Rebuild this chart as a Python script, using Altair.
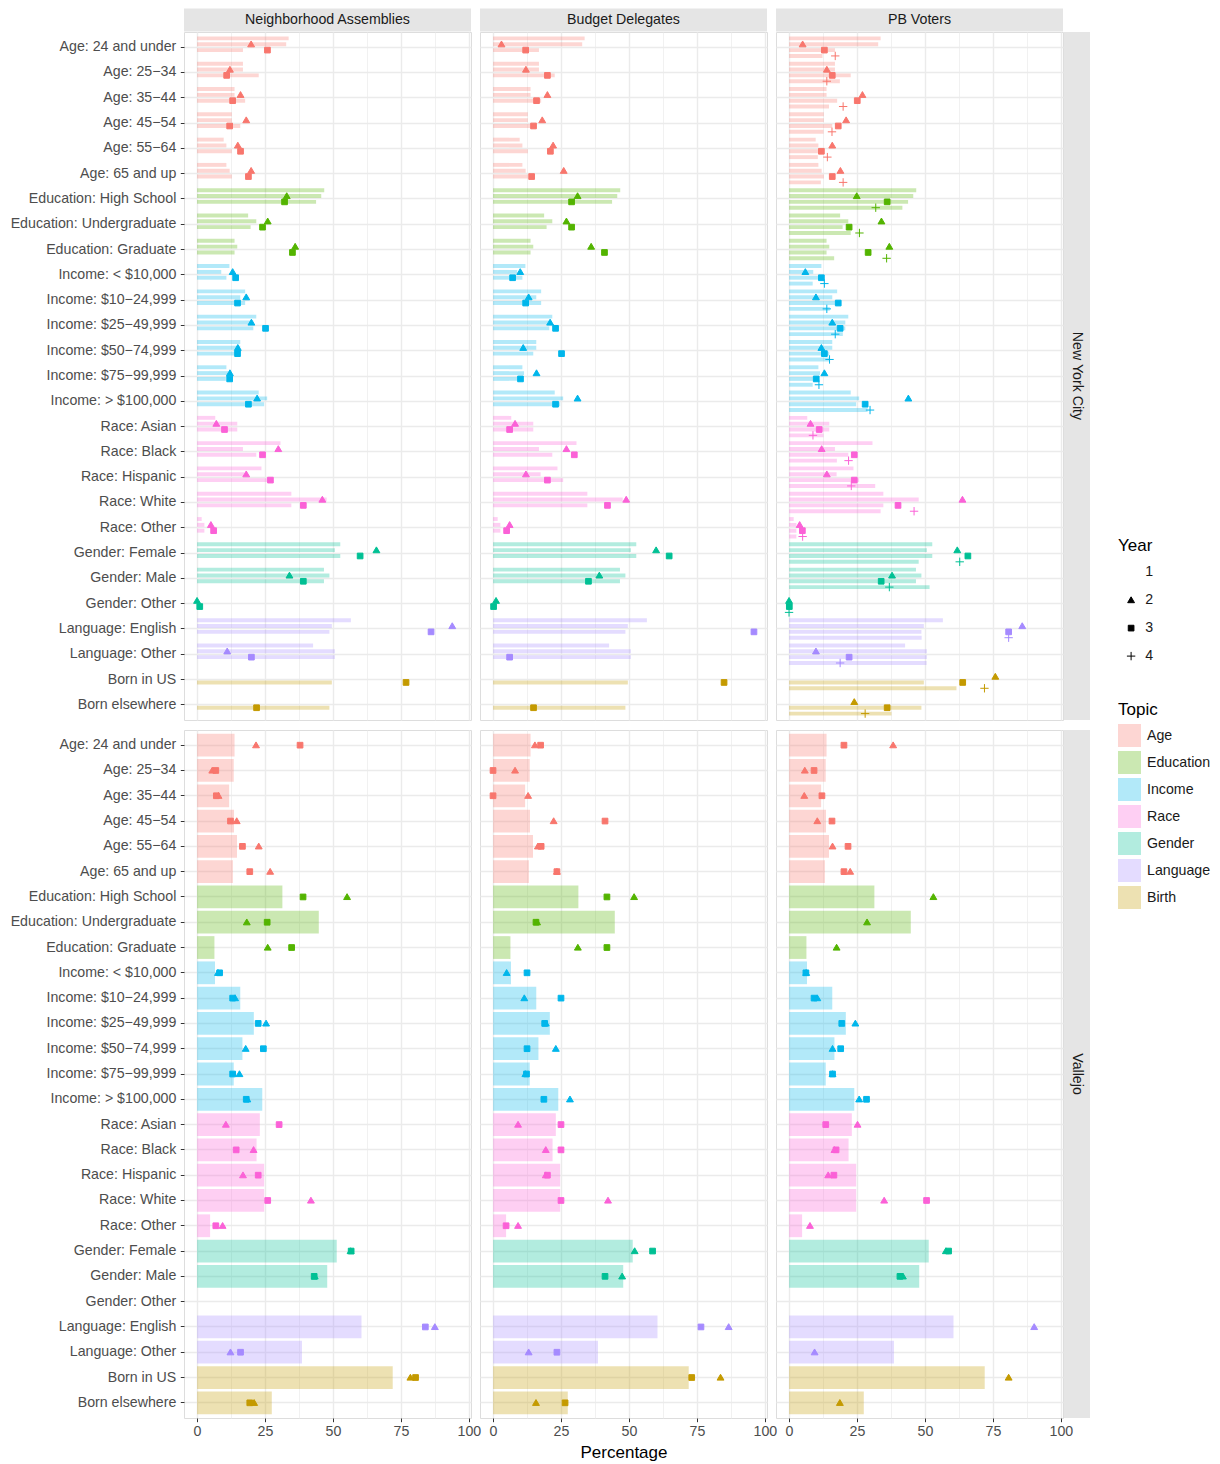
import altair as alt
import pandas as pd

FONT = "Liberation Sans"
FS = 14.2
W, H = 287, 688
XDOM = [-4.8, 100.8]

cats = ["Age: 24 and under", "Age: 25\u221234", "Age: 35\u221244", "Age: 45\u221254",
        "Age: 55\u221264", "Age: 65 and up",
        "Education: High School", "Education: Undergraduate", "Education: Graduate",
        "Income: < $10,000", "Income: $10\u221224,999", "Income: $25\u221249,999",
        "Income: $50\u221274,999", "Income: $75\u221299,999", "Income: > $100,000",
        "Race: Asian", "Race: Black", "Race: Hispanic", "Race: White", "Race: Other",
        "Gender: Female", "Gender: Male", "Gender: Other",
        "Language: English", "Language: Other",
        "Born in US", "Born elsewhere"]
topics = ["Age"] * 6 + ["Education"] * 3 + ["Income"] * 6 + ["Race"] * 5 + \
         ["Gender"] * 3 + ["Language"] * 2 + ["Birth"] * 2

topic_order = ["Age", "Education", "Income", "Race", "Gender", "Language", "Birth"]
topic_colors = ["#F8766D", "#53B400", "#00B6EB", "#FB61D7", "#00C094", "#A58AFF", "#C49A00"]
years = ["1", "2", "3", "4"]
shape_paths = ["M0,0", "M0,-0.78L0.82,0.62L-0.82,0.62Z",
               "M-0.68,-0.68H0.68V0.68H-0.68Z", "M-1,0H1M0,-1V1"]

panels = ["Neighborhood Assemblies", "Budget Delegates", "PB Voters"]
cities = ["New York City", "Vallejo"]

# New York City benchmark bars by year
nyc_bar_y1 = [33.7, 16.9, 13.8, 12.8, 9.8, 10.8, 46.8, 18.8, 13.8, 11.9, 17.7, 21.8, 15.9, 10.8, 22.7,
              6.7, 30.7, 23.7, 34.7, 1.7, 52.7, 46.7, 0, 56.6, 42.7, None, None]
nyc_bar_y2 = [32.8, 16.9, 13.8, 12.8, 10.8, 12.0, 45.7, 21.8, 14.8, 8.9, 15.9, 20.7, 15.9, 11.4, 25.8,
              14.8, 16.9, 17.5, 47.7, 2.7, 50.7, 48.7, 0, 49.6, 50.7, None, None]
nyc_bar_y3 = [16.9, 22.7, 17.7, 15.9, 12.8, 12.8, 43.8, 19.7, 13.8, 10.8, 17.7, 20.7, 14.8, 10.6, 24.7,
              14.8, 21.8, 25.8, 34.7, 2.7, 52.7, 46.7, 0, 48.7, 50.7, 49.6, 48.7]
nyc_bar_y4 = [12.3, 18.7, 14.7, 12.7, 10.6, 11.7, 41.7, 22.7, 16.6, 8.7, 15.0, 19.8, 14.8, 8.7, 28.9,
              12.7, 17.6, 31.7, 33.7, 2.7, 47.7, 51.7, 0, 48.8, 50.6, 61.6, 37.7]

# New York City participants
nyc_na_y2 = [19.9, 12.1, 16.0, 18.1, 15.0, 19.9, 33.0, 26.0, 36.1, 13.1, 18.1, 20.0, 15.0, 12.1, 22.1,
             7.1, 29.9, 18.1, 46.1, 5.1, 66.0, 34.0, 0.0, 93.9, 11.1, None, None]
nyc_na_y3 = [25.9, 10.9, 13.1, 12.0, 16.0, 18.9, 32.2, 24.1, 35.1, 14.2, 14.9, 25.2, 14.9, 12.0, 18.9,
             10.1, 24.1, 27.0, 39.1, 6.1, 60.0, 39.1, 1.0, 86.1, 20.0, 76.9, 21.9]
nyc_bd_y2 = [3.1, 12.1, 20.0, 18.1, 22.1, 26.0, 31.1, 27.0, 36.1, 10.0, 13.1, 21.0, 11.1, 16.0, 31.1,
             8.1, 27.0, 12.1, 49.0, 6.1, 60.0, 39.1, 1.1, None, None, None, None]
nyc_bd_y3 = [12.0, 20.0, 16.0, 14.9, 21.1, 14.2, 28.9, 28.9, 41.0, 7.2, 12.0, 23.0, 25.2, 10.1, 23.0,
             6.1, 29.9, 20.0, 42.1, 5.0, 64.8, 35.1, 0.2, 96.0, 6.1, 85.0, 14.9]
nyc_pb_y2 = [5.0, 13.9, 27.0, 21.0, 15.9, 18.9, 24.9, 34.0, 36.9, 6.0, 9.9, 15.9, 11.9, 13.0, 43.9,
             7.9, 12.0, 13.9, 63.8, 3.9, 61.9, 37.9, 0.0, 85.8, 9.9, 75.9, 24.0]
nyc_pb_y3 = [13.0, 15.9, 25.1, 18.1, 11.9, 15.9, 36.1, 22.1, 29.1, 11.9, 18.1, 18.8, 13.0, 10.0, 28.0,
             11.1, 24.0, 24.0, 40.1, 4.9, 65.8, 33.9, 0.1, 80.8, 22.1, 63.9, 36.1]
nyc_pb_y4 = [17.0, 13.9, 19.9, 15.8, 14.1, 19.9, 31.9, 25.9, 35.9, 13.0, 13.9, 17.0, 14.9, 11.0, 29.8,
             8.8, 21.9, 22.9, 46.0, 5.0, 62.8, 36.9, 0.0, 80.8, 18.8, 71.9, 28.0]

# Vallejo benchmark bars
val_bar = [13.8, 13.5, 11.8, 13.6, 14.7, 13.2, 31.4, 44.8, 6.4, 6.6, 15.9, 20.9, 16.7, 13.5, 24.0,
           23.1, 21.9, 24.7, 24.7, 4.8, 51.4, 47.9, None, 60.5, 38.6, 72.0, 27.5]

# Vallejo participants
val_na_y2 = [21.7, 5.6, 7.9, 14.6, 22.7, 26.9, 55.2, 18.3, 26.0, 7.7, 14.0, 25.4, 17.9, 15.6, 18.5,
             10.6, 20.8, 16.9, 41.9, 9.4, 56.5, 43.3, None, 87.5, 12.3, 78.5, 21.0]
val_na_y3 = [37.9, 6.9, 7.1, 12.3, 16.7, 19.4, 39.0, 25.8, 34.8, 8.3, 13.1, 22.5, 24.4, 13.1, 18.1,
             30.2, 14.4, 22.5, 26.0, 6.9, 56.7, 43.1, None, 84.0, 16.0, 80.4, 19.4]
val_bd_y2 = [15.4, 8.1, 12.9, 22.3, 16.5, 23.5, 51.9, 16.2, 31.2, 5.0, 11.5, 19.4, 23.1, 11.9, 28.3,
             9.2, 19.4, 19.4, 42.3, 9.2, 52.1, 47.5, None, 86.7, 13.1, 83.7, 15.8]
val_bd_y3 = [17.5, 0.0, 0.0, 41.2, 17.7, 23.5, 41.9, 15.8, 41.9, 12.5, 25.0, 19.0, 12.5, 12.3, 18.7,
             25.0, 25.0, 20.0, 25.0, 4.8, 58.7, 41.2, None, 76.5, 23.5, 73.1, 26.5]
val_pb_y2 = [38.3, 5.8, 5.6, 10.4, 16.0, 22.5, 53.1, 28.7, 17.5, 6.3, 10.4, 24.4, 16.0, 16.0, 25.8,
             25.2, 16.7, 14.4, 35.0, 7.7, 57.7, 41.9, None, 90.2, 9.4, 80.8, 18.7]
val_pb_y3 = [20.2, 9.2, 12.1, 15.8, 21.7, 20.2, None, None, None, 6.2, 9.2, 19.4, 19.0, 16.0, 28.5,
             13.5, 17.3, 16.5, 50.6, None, 58.7, 40.8, None, None, None, None, None]


def long_df(series):
    rows = []
    for yr, vals in series.items():
        for c, t, v in zip(cats, topics, vals):
            if v is not None:
                rows.append({"cat": c, "topic": t, "year": yr, "value": v})
    return pd.DataFrame(rows, columns=["cat", "topic", "year", "value"])


nyc_bars_3 = {"1": nyc_bar_y1, "2": nyc_bar_y2, "3": nyc_bar_y3}
nyc_bars_4 = {"1": nyc_bar_y1, "2": nyc_bar_y2, "3": nyc_bar_y3, "4": nyc_bar_y4}
data = {
    ("New York City", 0): (long_df(nyc_bars_3), long_df({"2": nyc_na_y2, "3": nyc_na_y3}), ["1", "2", "3"]),
    ("New York City", 1): (long_df(nyc_bars_3), long_df({"2": nyc_bd_y2, "3": nyc_bd_y3}), ["1", "2", "3"]),
    ("New York City", 2): (long_df(nyc_bars_4),
                           long_df({"2": nyc_pb_y2, "3": nyc_pb_y3, "4": nyc_pb_y4}), ["1", "2", "3", "4"]),
    ("Vallejo", 0): (long_df({"1": val_bar}), long_df({"2": val_na_y2, "3": val_na_y3}), None),
    ("Vallejo", 1): (long_df({"1": val_bar}), long_df({"2": val_bd_y2, "3": val_bd_y3}), None),
    ("Vallejo", 2): (long_df({"1": val_bar}), long_df({"2": val_pb_y2, "3": val_pb_y3}), None),
}

fill_scale = alt.Scale(domain=topic_order, range=topic_colors)
topic_legend = alt.Legend(title="Topic", orient="none", legendX=934, legendY=670,
                          symbolType="square", symbolSize=529, symbolOpacity=0.3,
                          symbolStrokeWidth=0, rowPadding=4, labelOffset=6,
                          labelFontSize=FS, titleFontSize=17, titleFontWeight="normal",
                          titlePadding=5, labelColor="#1A1A1A", titleColor="black")
year_legend = alt.Legend(title="Year", orient="none", legendX=934, legendY=506,
                         symbolSize=70, symbolFillColor="black", symbolStrokeColor="black",
                         symbolStrokeWidth=1, symbolOffset=6, rowPadding=13, labelOffset=7,
                         labelFontSize=FS, titleFontSize=17, titleFontWeight="normal",
                         titlePadding=10, labelColor="#1A1A1A", titleColor="black")

xvals = [0, 12.5, 25, 37.5, 50, 62.5, 75, 87.5, 100]
grid_w = {"condition": {"test": "datum.value % 25 !== 0", "value": 0.7}, "value": 1.4}


def x_axis(bottom):
    if bottom:
        return alt.Axis(values=xvals, grid=True, gridColor="#EBEBEB", gridWidth=grid_w,
                        domain=False, ticks=True, tickSize=3.7, tickColor="#333333", tickWidth=1,
                        tickOpacity={"condition": {"test": "datum.value % 25 !== 0", "value": 0},
                                     "value": 1},
                        labelExpr="datum.value % 25 === 0 ? datum.label : ''",
                        labelFontSize=FS, labelColor="#4D4D4D", labelPadding=3,
                        labelFlush=False, labelOverlap=False,
                        titleFontSize=17, titleColor="black", titleFontWeight="normal",
                        titlePadding=6)
    return alt.Axis(values=xvals, grid=True, gridColor="#EBEBEB", gridWidth=grid_w,
                    domain=False, ticks=False, labels=False, minExtent=0, maxExtent=0)


def y_axis(first):
    if first:
        return alt.Axis(grid=True, gridColor="#EBEBEB", gridWidth=1.4, bandPosition=0.5,
                        domain=False, ticks=True, tickSize=3.7, tickColor="#333333", tickWidth=1,
                        labelFontSize=FS, labelColor="#4D4D4D", labelPadding=4.5,
                        minExtent=175, maxExtent=175, labelLimit=200)
    return alt.Axis(grid=True, gridColor="#EBEBEB", gridWidth=1.4, bandPosition=0.5,
                    domain=False, ticks=False, labels=False, minExtent=0, maxExtent=0)


def panel(city, col):
    bars_df, pts_df, ydom = data[(city, col)]
    bottom = city == "Vallejo"
    xtitle = "Percentage" if (bottom and col == 1) else None
    if ydom is not None:
        yscale = alt.Scale(domain=cats, paddingInner=0, paddingOuter=0.1)
        n = len(ydom)
        po = (1.0 / 0.9 * n - n + 1.0 / 3) / 2
        offscale = alt.Scale(domain=ydom, paddingInner=1.0 / 3, paddingOuter=po)
    else:
        yscale = alt.Scale(domain=cats, paddingInner=0.1, paddingOuter=0.15)
        offscale = None

    x = alt.X("value:Q", scale=alt.Scale(domain=XDOM, nice=False, zero=False),
              axis=x_axis(bottom), title=xtitle)
    y = alt.Y("cat:N", sort=cats, scale=yscale, axis=y_axis(col == 0), title=None)

    benc = dict(x=x, x2=alt.datum(0), y=y,
                fill=alt.Fill("topic:N", scale=fill_scale, legend=topic_legend))
    penc = dict(x=x, y=y,
                fill=alt.Fill("topic:N", scale=fill_scale, legend=topic_legend),
                stroke=alt.Stroke("topic:N", scale=fill_scale, legend=None),
                shape=alt.Shape("year:N", scale=alt.Scale(domain=years, range=shape_paths),
                                legend=year_legend))
    if offscale is not None:
        benc["yOffset"] = alt.YOffset("year:N", scale=offscale)
        penc["yOffset"] = alt.YOffset("year:N", scale=offscale)

    bars = alt.Chart(bars_df).mark_bar(opacity=0.3).encode(**benc)
    pts = alt.Chart(pts_df).mark_point(filled=True, opacity=1, size=70,
                                       strokeWidth=1).encode(**penc)
    layers = [bars, pts]
    if not bottom:
        lab = pd.DataFrame({"t": [panels[col]]})
        layers.append(alt.Chart(lab).mark_rect(color="#E5E5E5").encode(
            x=alt.value(0), x2=alt.value(W), y=alt.value(-23.5), y2=alt.value(-0.5)))
        layers.append(alt.Chart(lab).mark_text(fontSize=FS, font=FONT, color="#1A1A1A",
                                               baseline="middle", align="center").encode(
            text="t:N", x=alt.value(W / 2), y=alt.value(-12)))
    if col == 2:
        lab = pd.DataFrame({"t": [city]})
        layers.append(alt.Chart(lab).mark_rect(color="#E5E5E5").encode(
            x=alt.value(W + 1), x2=alt.value(W + 27), y=alt.value(0), y2=alt.value(H)))
        layers.append(alt.Chart(lab).mark_text(fontSize=FS, font=FONT, color="#1A1A1A",
                                               baseline="middle", align="center",
                                               angle=90).encode(
            text="t:N", x=alt.value(W + 14), y=alt.value(H / 2)))
    return alt.layer(*layers).properties(width=W, height=H)


cells = [panel(c, i) for c in cities for i in range(3)]
chart = alt.concat(*cells, columns=3, spacing={"row": 10, "column": 9},
                   bounds="flush").properties(
    padding={"left": 0, "top": 0, "right": 0, "bottom": 0}
).configure_view(stroke=None).configure_axis(
    labelFont=FONT, titleFont=FONT
).configure_legend(labelFont=FONT, titleFont=FONT).configure(background="white")

chart.save("out.html", embed_options={"renderer": "svg", "actions": False})
